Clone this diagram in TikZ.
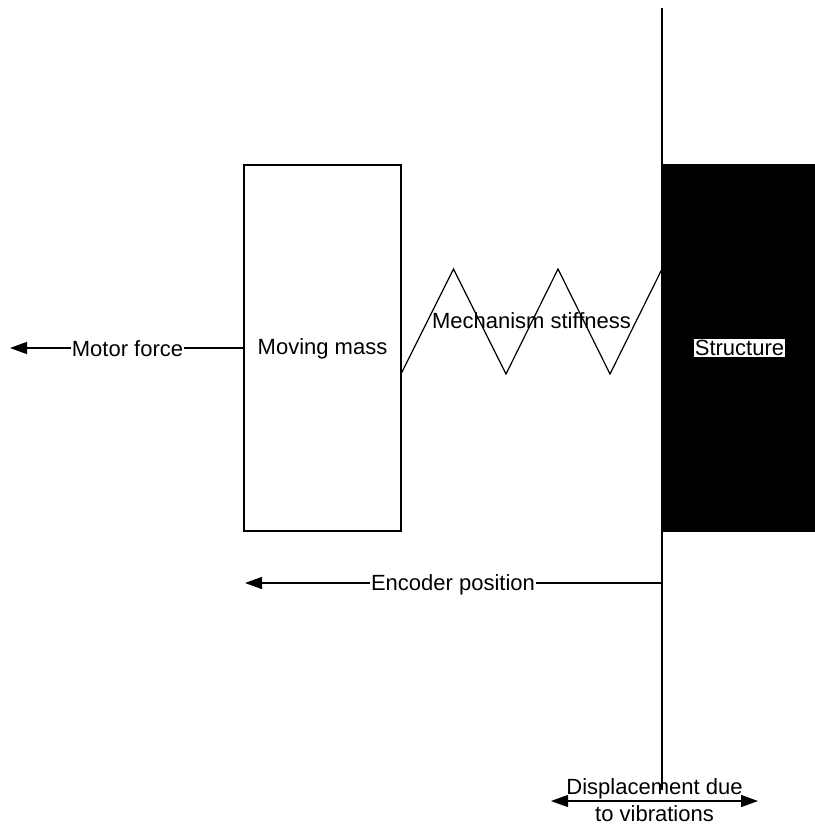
\documentclass[tikz,border=0pt]{standalone}
\usepackage{fontspec}
\setmainfont{Liberation Sans}
\usetikzlibrary{arrows.meta, positioning}
\tikzstyle{body} = [
  rectangle, draw=black, line width=1.2pt, inner sep=0pt
]
\tikzstyle{caption} = [
  inner sep=1pt, font=\fontsize{22}{26.5}\selectfont, align=center
]
\tikzstyle{label} = [
  caption, fill=white
]
\tikzstyle{arrow} = [
  -{Triangle[length=17pt,width=12pt]}, line width=1.2pt, color=black
]
\tikzstyle{bothways} = [
  {Triangle[length=17pt,width=12pt]}-{Triangle[length=17pt,width=12pt]}, line width=1.2pt, color=black
]
\begin{document}
\begin{tikzpicture}[x=1pt, y=-1pt]
  \useasboundingbox (0,0) rectangle (814,829);

  % -- Bodies
  \node[body, minimum width=157pt, minimum height=366pt] (mass) at (322.5,348) {};
  \node[body, fill=black, minimum width=152pt, minimum height=366pt] (structure) at (738,348) {};

  % -- Frame line
  \coordinate (frametop) at (662,8);
  \coordinate (framebot) at (662,790);
  \draw[line width=1.2pt] (frametop) -- (framebot);

  % -- Spring
  \coordinate (s0) at (401,374);
  \coordinate (s1) at (453.5,269);
  \coordinate (s2) at (506,374);
  \coordinate (s3) at (558,269);
  \coordinate (s4) at (610,374);
  \coordinate (s5) at (662,269);
  \draw[line width=1.2pt] (s0) -- (s1) -- (s2) -- (s3) -- (s4) -- (s5);

  % -- Labels
  \node[caption] (stiffness) at (531.5,321) {Mechanism stiffness};
  \node[label] (moving) at (322.5,349) {Moving mass};
  \node[label] (structlabel) at (739.5,348) {Structure};

  % -- Motor force
  \coordinate (motorend) at (10,348);
  \draw[arrow] (mass.west |- motorend) -- (motorend);
  \node[label] (motor) at (127.5,349) {Motor force};

  % -- Encoder
  \coordinate (encstart) at (662,583);
  \coordinate (encend) at (245,583);
  \draw[arrow] (encstart) -- (encend);
  \node[label] (encoder) at (453,585) {Encoder position};

  % -- Displacement
  \coordinate (displeft) at (551,801);
  \coordinate (dispright) at (758,801);
  \draw[bothways] (displeft) -- (dispright);
  \node[caption] (displacement) at (654.5,800) {Displacement due\\to vibrations};
\end{tikzpicture}
\end{document}
